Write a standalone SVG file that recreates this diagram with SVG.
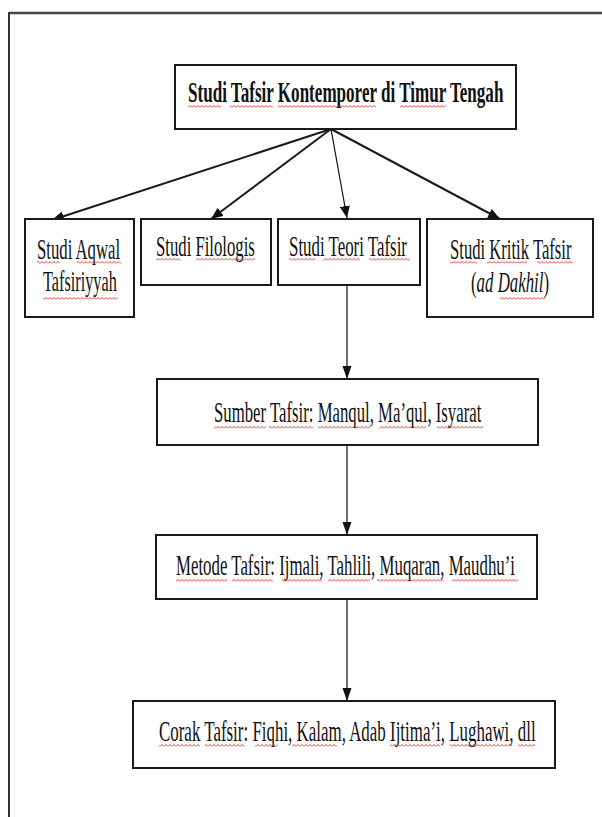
<svg xmlns="http://www.w3.org/2000/svg" width="602" height="817" viewBox="0 0 602 817">
  <style>
    .box { fill: #ffffff; stroke: #1a1a1a; stroke-width: 2; }
    .t { font-family: "Liberation Serif", "Times New Roman", serif; font-size: 30px; fill: #111; }
    .tb { font-weight: bold; font-size: 29px; }
    .thick { stroke: #1a1a1a; stroke-width: 2; fill: none; }
    .thin { stroke: #111; stroke-width: 1.2; fill: none; }
    .sq { fill: url(#sq); }
  </style>
  <defs>
    <marker id="ah" markerUnits="userSpaceOnUse" markerWidth="13" markerHeight="10" refX="12" refY="5" orient="auto">
      <path d="M0,0 L12,5 L0,10 z" fill="#111"/>
    </marker>
    <marker id="av" markerUnits="userSpaceOnUse" markerWidth="14" markerHeight="10" refX="13" refY="4.5" orient="auto">
      <path d="M0,0 L13,4.5 L0,9 z" fill="#111"/>
    </marker>
    <pattern id="sq" width="4" height="3" patternUnits="userSpaceOnUse">
      <path d="M0,2.5 L2,0.5 L4,2.5" fill="none" stroke="#e02020" stroke-width="0.9"/>
    </pattern>
  </defs>
  <rect x="0" y="0" width="602" height="817" fill="#ffffff"/>
  <g id="frame">
    <line x1="9" y1="13" x2="602" y2="13" stroke="#444" stroke-width="2.5"/>
    <line x1="9" y1="12" x2="9" y2="817" stroke="#333" stroke-width="2"/>
  </g>
  <g id="connectors">
    <line class="thick" x1="331" y1="129" x2="52" y2="220" marker-end="url(#ah)"/>
    <line class="thick" x1="331" y1="129" x2="211" y2="219" marker-end="url(#ah)"/>
    <line class="thin" x1="331" y1="129" x2="347" y2="218" marker-end="url(#ah)"/>
    <line class="thick" x1="331" y1="129" x2="500" y2="219" marker-end="url(#ah)"/>
    <line class="thin" x1="347" y1="285" x2="347" y2="379" marker-end="url(#av)"/>
    <line class="thin" x1="347" y1="445" x2="347" y2="535" marker-end="url(#av)"/>
    <line class="thin" x1="347" y1="599" x2="347" y2="701" marker-end="url(#av)"/>
  </g>
  <g id="root">
    <rect class="box" x="175" y="65" width="341" height="64"/>
    <text class="t tb" transform="translate(188,102) scale(0.589,1)">Studi Tafsir Kontemporer di Timur Tengah</text>
    <rect class="sq" x="188" y="105" width="33" height="3"/>
    <rect class="sq" x="230" y="105" width="43" height="3"/>
    <rect class="sq" x="278" y="105" width="98" height="3"/>
    <rect class="sq" x="400" y="105" width="46" height="3"/>
  </g>
  <g id="aqwal">
    <rect class="box" x="25" y="219" width="109" height="98"/>
    <text class="t" transform="translate(37,259) scale(0.557,1)">Studi Aqwal</text>
    <text class="t" transform="translate(43,291) scale(0.542,1)">Tafsiriyyah</text>
    <rect class="sq" x="37" y="261" width="23" height="3"/>
    <rect class="sq" x="77" y="261" width="44" height="3"/>
    <rect class="sq" x="43" y="297" width="75" height="3"/>
  </g>
  <g id="filologis">
    <rect class="box" x="141" y="219" width="130" height="66"/>
    <text class="t" transform="translate(156,256) scale(0.557,1)">Studi Filologis</text>
    <rect class="sq" x="156" y="258" width="25" height="3"/>
    <rect class="sq" x="196" y="258" width="59" height="3"/>
  </g>
  <g id="teori">
    <rect class="box" x="278" y="219" width="142" height="66"/>
    <text class="t" transform="translate(289,256) scale(0.563,1)">Studi Teori Tafsir</text>
    <rect class="sq" x="289" y="258" width="26" height="3"/>
    <rect class="sq" x="323" y="258" width="37" height="3"/>
    <rect class="sq" x="369" y="258" width="41" height="3"/>
  </g>
  <g id="kritik">
    <rect class="box" x="427" y="219" width="166" height="98"/>
    <text class="t" transform="translate(450,259) scale(0.555,1)">Studi Kritik Tafsir</text>
    <text class="t" transform="translate(471,292) scale(0.561,1)">(<tspan font-style="italic">ad Dakhil</tspan>)</text>
    <rect class="sq" x="450" y="261" width="27" height="3"/>
    <rect class="sq" x="487" y="261" width="40" height="3"/>
    <rect class="sq" x="537" y="261" width="36" height="3"/>
    <rect class="sq" x="500" y="297" width="45" height="3"/>
  </g>
  <g id="sumber">
    <rect class="box" x="157" y="379" width="381" height="66"/>
    <text class="t" transform="translate(214,422) scale(0.5586,1)">Sumber Tafsir: Manqul, Ma’qul, Isyarat</text>
    <rect class="sq" x="214" y="426" width="52" height="3"/>
    <rect class="sq" x="269" y="426" width="44" height="3"/>
    <rect class="sq" x="318" y="426" width="52" height="3"/>
    <rect class="sq" x="379" y="426" width="47" height="3"/>
    <rect class="sq" x="437" y="426" width="46" height="3"/>
  </g>
  <g id="metode">
    <rect class="box" x="156" y="535" width="381" height="64"/>
    <text class="t" transform="translate(176,575) scale(0.561,1)">Metode Tafsir: Ijmali, Tahlili, Muqaran, Maudhu’i</text>
    <rect class="sq" x="176" y="579" width="51" height="3"/>
    <rect class="sq" x="232" y="579" width="41" height="3"/>
    <rect class="sq" x="282" y="579" width="40" height="3"/>
    <rect class="sq" x="328" y="579" width="42" height="3"/>
    <rect class="sq" x="377" y="579" width="66" height="3"/>
    <rect class="sq" x="452" y="579" width="66" height="3"/>
  </g>
  <g id="corak">
    <rect class="box" x="133" y="701" width="422" height="67"/>
    <text class="t" transform="translate(159,741) scale(0.564,1)">Corak Tafsir: Fiqhi, Kalam, Adab Ijtima’i, Lughawi, dll</text>
    <rect class="sq" x="159" y="744" width="41" height="3"/>
    <rect class="sq" x="205" y="744" width="40" height="3"/>
    <rect class="sq" x="255" y="744" width="23" height="3"/>
    <rect class="sq" x="292" y="744" width="45" height="3"/>
    <rect class="sq" x="390" y="744" width="50" height="3"/>
    <rect class="sq" x="450" y="744" width="62" height="3"/>
    <rect class="sq" x="518" y="744" width="17" height="3"/>
  </g>
</svg>
